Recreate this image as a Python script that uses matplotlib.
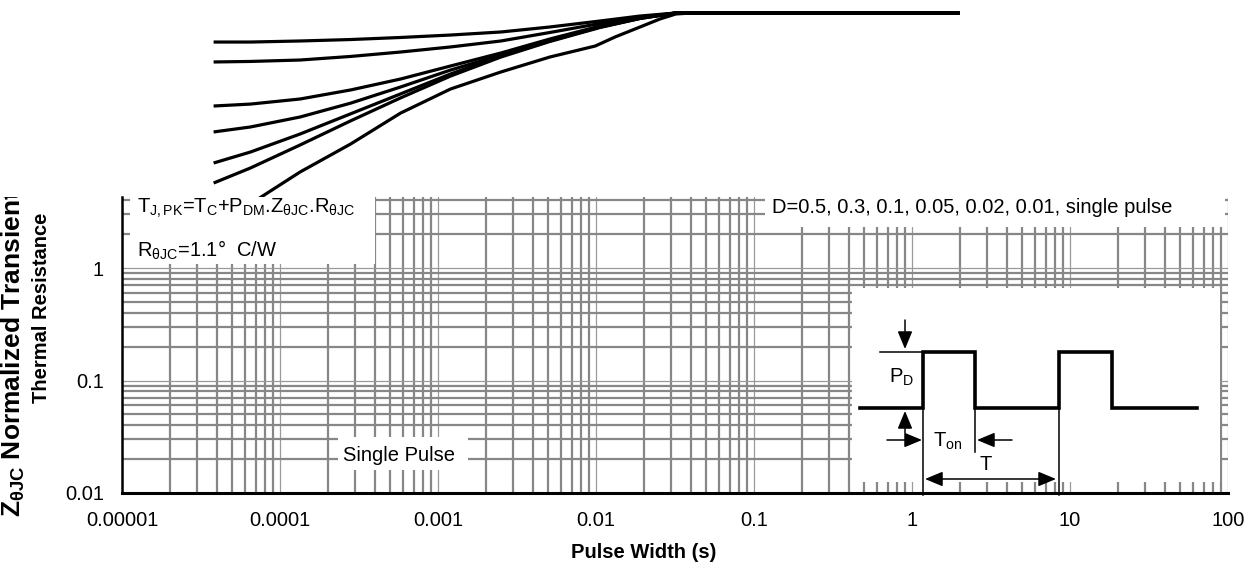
import matplotlib
matplotlib.use("Agg")
import matplotlib.pyplot as plt
import numpy as np
from matplotlib.patches import Rectangle
from matplotlib.ticker import FixedLocator, LogLocator, NullFormatter
from matplotlib.transforms import Bbox, TransformedBbox

plt.rcParams['font.family'] = ['Liberation Sans', 'DejaVu Sans']
plt.rcParams['mathtext.fontset'] = 'custom'
plt.rcParams['mathtext.rm'] = 'Liberation Sans'
plt.rcParams['mathtext.it'] = 'Liberation Sans:italic'
plt.rcParams['mathtext.bf'] = 'Liberation Sans:bold'

W, H = 1258, 571
FS = 14.5

# axis ticks
x_ticks = [1e-5, 1e-4, 1e-3, 1e-2, 1e-1, 1, 10, 100]
x_labels = ["0.00001", "0.0001", "0.001", "0.01", "0.1", "1", "10", "100"]
y_ticks = [0.01, 0.1, 1]
y_labels = ["0.01", "0.1", "1"]

# normalized transient thermal impedance
t_duty = [3.8e-5, 6.5e-5, 1.34e-4, 2.8e-4, 5.8e-4, 1.2e-3, 2.5e-3, 5.1e-3, 1.06e-2,
          1.9e-2, 3.2e-2, 4.0e-2, 2.0]
z_d050 = [0.552, 0.552, 0.564, 0.581, 0.606, 0.637, 0.678, 0.751, 0.849, 0.940, 1.0, 1.0, 1.0]
z_d030 = [0.367, 0.371, 0.382, 0.411, 0.450, 0.499, 0.564, 0.671, 0.807, 0.921, 1.0, 1.0, 1.0]
z_d010 = [0.149, 0.155, 0.172, 0.207, 0.259, 0.338, 0.441, 0.587, 0.766, 0.903, 1.0, 1.0, 1.0]
z_d005 = [0.0876, 0.0970, 0.119, 0.158, 0.220, 0.311, 0.423, 0.575, 0.751, 0.903, 1.0, 1.0, 1.0]
z_d002 = [0.0464, 0.0581, 0.0840, 0.127, 0.191, 0.287, 0.415, 0.564, 0.751, 0.894, 1.0, 1.0, 1.0]
z_d001 = [0.0308, 0.0419, 0.0671, 0.110, 0.176, 0.275, 0.406, 0.558, 0.743, 0.894, 1.0, 1.0, 1.0]
t_single = [3.8e-5, 6.5e-5, 1.34e-4, 2.8e-4, 5.8e-4, 1.2e-3, 2.5e-3, 5.1e-3, 9.9e-3,
            1.32e-2, 1.9e-2, 2.54e-2, 3.2e-2, 4.0e-2, 2.0]
z_single = [0.0123, 0.0201, 0.0386, 0.0685, 0.129, 0.211, 0.299, 0.406, 0.509,
            0.612, 0.751, 0.885, 0.98, 1.0, 1.0]

# duty cycle sketch (inset units)
pulse_x = [8, 71, 71, 123, 123, 207, 207, 260, 260, 345]
pulse_y = [120, 120, 64, 64, 120, 120, 64, 64, 120, 120]

fig = plt.figure(figsize=(W / 100, H / 100), dpi=100)

# curves
cax = fig.add_axes([122 / W, (H - 197) / H, 1106 / W, 197 / H], zorder=0)
cax.set_xscale('log')
cax.set_yscale('log')
cax.set_xlim(1e-5, 100)
cax.set_ylim(0.02314, 1.305)
cax.axis('off')
for z in [z_d050, z_d030, z_d010, z_d005, z_d002, z_d001]:
    cax.plot(t_duty, z, color='black', lw=2.3, solid_capstyle='butt', solid_joinstyle='round')
cax.plot(t_single, z_single, color='black', lw=2.3, solid_capstyle='butt', solid_joinstyle='round')

# main grid axes
ax = fig.add_axes([122 / W, (H - 493) / H, 1106 / W, 296 / H], zorder=1)
ax.set_xscale('log')
ax.set_yscale('log')
ax.set_xlim(1e-5, 100)
ax.set_ylim(0.01, 4.28)
ax.xaxis.set_major_locator(FixedLocator(x_ticks))
ax.set_xticklabels(x_labels)
ax.yaxis.set_major_locator(FixedLocator(y_ticks))
ax.set_yticklabels(y_labels)
ax.xaxis.set_minor_locator(LogLocator(10, subs=np.arange(2, 10), numticks=50))
ax.yaxis.set_minor_locator(LogLocator(10, subs=np.arange(2, 10), numticks=50))
ax.xaxis.set_minor_formatter(NullFormatter())
ax.yaxis.set_minor_formatter(NullFormatter())
ax.grid(True, which='major', color='#9a9a9a', lw=0.9)
ax.grid(True, which='minor', color='#878787', lw=1.6)
ax.tick_params(which='both', length=0, pad=13, labelsize=FS)
ax.spines['top'].set_visible(False)
ax.spines['right'].set_visible(False)
ax.spines['left'].set_linewidth(1.8)
ax.spines['bottom'].set_linewidth(2.2)
for s in ax.spines.values():
    s.set_zorder(5)

# white label boxes over the grid
for x0, y0, w, h in [(0.0072, 0.774, 0.2216, 0.24), (0.5814, 0.8986, 0.4159, 0.11),
                     (0.1953, 0.0777, 0.1175, 0.1115)]:
    ax.add_patch(Rectangle((x0, y0), w, h, transform=ax.transAxes, facecolor='white',
                           edgecolor='none', zorder=3))

ax.text(0.0136, 0.9459,
        r'T$_\mathregular{J,PK}$=T$_\mathregular{C}$+P$_\mathregular{DM}$.Z$_\mathregular{θJC}$.R$_\mathregular{θJC}$',
        transform=ax.transAxes, fontsize=FS, va='baseline', ha='left', zorder=4)
ax.text(0.0136, 0.7973, r'R$_\mathregular{θJC}$=1.1°  C/W',
        transform=ax.transAxes, fontsize=FS, va='baseline', ha='left', zorder=4)
ax.text(0.5877, 0.9459, 'D=0.5, 0.3, 0.1, 0.05, 0.02, 0.01, single pulse',
        transform=ax.transAxes, fontsize=FS, va='baseline', ha='left', zorder=4)
ax.text(0.2509, 0.108, 'Single Pulse', transform=ax.transAxes, fontsize=FS,
        va='baseline', ha='center', zorder=4)

# inset duty cycle sketch
iax = fig.add_axes([852 / W, (H - 482) / H, 368 / W, 194 / H], zorder=3)
iax.set_facecolor('white')
iax.set_xlim(0, 368)
iax.set_ylim(194, 0)
iax.set_xticks([])
iax.set_yticks([])
for s in iax.spines.values():
    s.set_visible(False)
iax.plot(pulse_x, pulse_y, color='black', lw=2.6, solid_joinstyle='miter')
iax.plot([28, 71], [64, 64], color='black', lw=1.1)
iax.plot([71, 71], [120, 207], color='black', lw=1.1, clip_on=False)
iax.plot([123, 123], [120, 164], color='black', lw=1.1)
iax.plot([207, 207], [120, 207], color='black', lw=1.1, clip_on=False)
arrow = dict(arrowstyle='-|>,head_length=0.6,head_width=0.25', color='black', lw=1.1,
             mutation_scale=18, shrinkA=0, shrinkB=0)
iax.annotate('', xy=(53, 61), xytext=(53, 32), arrowprops=arrow)
iax.annotate('', xy=(53, 123), xytext=(53, 145), arrowprops=arrow)
iax.annotate('', xy=(70, 152), xytext=(35, 152), arrowprops=arrow)
iax.annotate('', xy=(125, 152), xytext=(160, 152), arrowprops=arrow)
iax.annotate('', xy=(204, 191), xytext=(73, 191),
             arrowprops=dict(arrowstyle='<|-|>,head_length=0.6,head_width=0.25', color='black',
                             lw=1.1, mutation_scale=18, shrinkA=0, shrinkB=0))
iax.text(50, 89, r'P$_\mathregular{D}$', fontsize=FS, ha='center', va='center')
iax.text(96, 153, r'T$_\mathregular{on}$', fontsize=FS, ha='center', va='center')
iax.text(134, 177, 'T', fontsize=FS, ha='center', va='center')

# y title: the first line runs past the plot top and is cut there
t1 = fig.text(21 / W, (H - 517) / H, r'Z$_\mathregular{θJC}$ Normalized Transient',
              rotation=90, rotation_mode='anchor', ha='left', va='baseline',
              fontsize=19, fontweight='bold')
t1.set_clip_box(TransformedBbox(Bbox([[0, 0], [1, (H - 197) / H]]), fig.transFigure))
t1.set_clip_on(True)
fig.text(42 / W, (H - 307.5) / H, 'Thermal Resistance', rotation=90, ha='center',
         va='center', fontsize=FS, fontweight='bold')
fig.text(644 / W, (H - 553) / H, 'Pulse Width (s)', ha='center', va='center',
         fontsize=FS, fontweight='bold')

fig.savefig('out.png', dpi=100)
